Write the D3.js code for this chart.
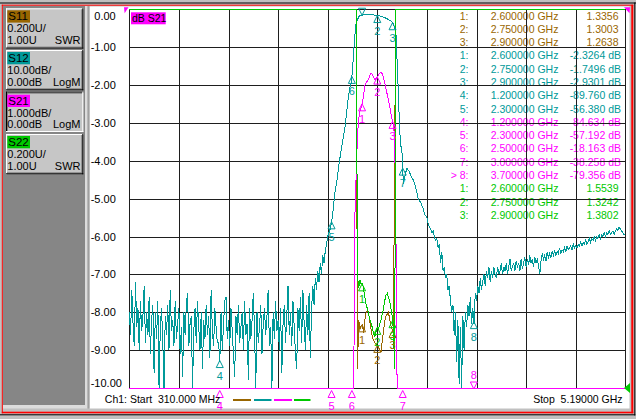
<!DOCTYPE html>
<html><head><meta charset="utf-8">
<script src="https://cdn.jsdelivr.net/npm/d3@7/dist/d3.min.js"></script>
<style>
html,body{margin:0;padding:0;background:#c0c0c0;overflow:hidden;}
svg{display:block;font-family:"Liberation Sans",Arial,sans-serif;}
text{white-space:pre;}
</style></head><body>
<svg id="chart" width="636" height="419"></svg>
<script>
// ================= DATA =================
const sweepStartGHz = 0.31;
const sweepStopGHz = 5.19;
const sweepPoints = 401;

// S12 (LogM, 10 dB/div, ref 0 dB) - one value per sweep point
const s12dB = [
-80,-86,-74,-83,-89,-72,-84,-79,-90,-77,
-85,-81,-73,-88,-80,-86,-76,-91,-82,-78,
-96,-80,-87,-77,-102,-84,-79,-88,-104,-81,
-86,-78,-90,-74,-85,-82,-89,-77,-87,-83,
-79,-91,-84,-97,-80,-86,-78,-75,-89,-83,
-81,-103,-85,-79,-88,-77,-84,-90,-80,-95,
-82,-87,-78,-86,-81,-92,-74,-85,-89,-79,
-84,-88,-88,-93,-80,-90,-83,-77,-76,-87,
-82,-89,-79,-85,-91,-97,-81,-86,-78,-88,
-84,-80,-90,-77,-86,-83,-98,-79,-87,-82,
-75,-85,-102,-80,-88,-84,-78,-91,-83,-79,
-86,-81,-74,-89,-84,-101,-80,-87,-77,-85,
-82,-90,-79,-96,-83,-78,-88,-81,-73,-86,
-80,-89,-77,-84,-91,-95,-79,-85,-76,-88,
-74,-83,-90,-78,-86,-75,-92,-79,-73,-78,
-71,-74,-69,-72,-67,-70,-65,-67,-64,-62,
-60,-59,-58,-56.4,-54,-51,-48,-46,-44,-41,
-39,-37,-35,-33,-31,-28,-25,-22.5,-20.5,-19.5,
-16,-11,-6.5,-3.5,-2.8,-2.0,-1.7,-1.6,-1.55,-1.45,
-1.35,-1.3,-1.3,-1.3,-1.35,-1.4,-1.45,-1.5,-1.55,-1.6,
-1.65,-1.7,-1.75,-1.85,-1.95,-2.05,-2.2,-2.35,-2.5,-2.7,
-2.9,-3.1,-3.4,-3.9,-4.8,-6.0,-14,-22,-32,-36,
-38,-46,-44.5,-43,-42,-42.5,-43,-44,-44.5,-45,
-46,-47,-48.5,-50,-50.5,-51,-52,-52.5,-54,-54.5,
-55,-56.5,-57.5,-58,-59,-58.5,-60,-61,-60.5,-63,
-62,-67,-64,-69,-68,-71,-70,-74,-73,-77,
-80,-78,-86,-80,-93,-82,-99,-84,-103,-81,
-90,-80,-84,-78,-81,-76,-83,-79,-83,-75,
-77,-73,-75,-71,-74,-72,-70,-73,-69,-71,
-68,-72,-69,-71,-68,-70,-71,-68,-70,-69,
-67,-70,-68,-69,-67,-70,-68,-66,-69,-68,
-67,-69,-66.5,-68,-67,-69,-66,-68.5,-67,-65.5,
-68,-66,-67.5,-65,-67,-66,-68,-65.5,-67,-66,
-67.5,-70,-66.5,-64.5,-66,-65,-66.5,-64,-65.5,-64.5,
-65.5,-64,-65,-63.5,-65,-64,-64.5,-63,-64.5,-63.5,
-64,-63,-64,-62.5,-63.5,-63,-62.5,-63.5,-62,-63,
-62.5,-63,-62,-62.5,-61.5,-62.5,-61.5,-62,-61,-62,
-61.5,-60.5,-61.5,-60.5,-61,-60,-61,-60,-60.5,-59.5,
-60.5,-59.5,-60,-59,-60,-59,-59.5,-58.5,-59.5,-59,
-58.5,-59.5,-58.5,-58,-58.5,-57.5,-58,-58.5,-59,-59.5,
-59.5
];

// S21 (LogM, 1 dB/div, ref 0 dB)
const s21FreqGHz = [0.31,1.2,2.3,2.5,
2.518,2.530,2.543,2.555,2.567,2.579,2.591,2.604,2.616,2.628,
2.640,2.652,2.665,2.677,2.689,2.701,2.713,2.726,2.738,2.750,
2.762,2.774,2.787,2.799,2.811,2.823,2.835,2.848,2.860,2.872,
2.884,2.896,2.909,2.921,2.933,2.945,
3.0,3.7,5.19];
const s21dB = [-88,-84.634,-57.192,-18.163,
-11.0,-5.4,-4.3,-3.3,-2.9,-2.7,-2.6,-2.45,-2.25,-2.0,
-1.93,-1.9,-1.85,-1.75,-1.68,-1.72,-1.8,-1.86,-1.83,-1.79,
-1.73,-1.69,-1.67,-1.7,-1.8,-1.93,-2.1,-2.25,-2.4,-2.55,
-2.75,-2.92,-3.05,-3.4,-5.8,-22,
-38.258,-79.356,-62];

// S11 and S22 (SWR, 0.2 U/div, ref 1.00 U)
const swrFreqGHz = [0.31,2.0,
2.530,2.543,2.555,2.567,2.579,2.591,2.604,2.616,2.628,2.640,
2.652,2.665,2.677,2.689,2.701,2.713,2.726,2.738,2.750,2.762,
2.774,2.787,2.799,2.811,2.823,2.835,2.848,2.860,2.872,2.884,
2.896,2.909,2.921,2.933,2.945,
3.5,5.19];
const s11Swr = [25,40,
30,12,1.10,1.36,1.31,1.33,1.335,1.29,1.36,1.40,
1.41,1.39,1.35,1.31,1.27,1.25,1.24,1.23,1.225,1.22,
1.20,1.19,1.25,1.30,1.35,1.38,1.39,1.40,1.36,1.33,
1.31,1.29,2.3,8,30,
45,20];
const s22Swr = [30,50,
40,10,1.59,1.53,1.57,1.55,1.55,1.52,1.48,1.44,
1.42,1.39,1.36,1.34,1.32,1.29,1.27,1.30,1.32,1.31,
1.34,1.36,1.39,1.42,1.46,1.49,1.50,1.48,1.46,1.42,
1.38,1.30,1.10,9,40,
50,25];

// markers
const markerFreqGHz = [2.6, 2.75, 2.9, 1.2, 2.3, 2.5, 3.0, 3.7];
const s11ShownMarkers = [1,2,3];
const s12ShownMarkers = [1,2,3,4,5,6,7,8];
const s21ShownMarkers = [1,2,3,4,5,6,7,8];
const s22ShownMarkers = [1,2,3];
const s12ActiveMarker = 1;
const s21ActiveMarker = 8;

// marker readout table
const s11ListMarkers = [1,2,3];
const s11ListValues = [1.3356,1.3003,1.2638];
const s12ListMarkers = [1,2,3,4,5];
const s12ListValues = [-2.3264,-1.7496,-2.9301,-89.760,-56.380];
const s21ListMarkers = [4,5,6,7,8];
const s21ListValues = [-84.634,-57.192,-18.163,-38.258,-79.356];
const s22ListMarkers = [1,2,3];
const s22ListValues = [1.5539,1.3242,1.3802];

// axis
const yTickValues = [0,-1,-2,-3,-4,-5,-6,-7,-8,-9,-10];

// channel panel
const channelNames = ["S11","S12","S21","S22"];
const channelScales = ["0.200U/","10.00dB/","1.000dB/","0.200U/"];
const channelRefs = ["1.00U","0.00dB","0.00dB","1.00U"];
const channelFormats = ["SWR","LogM","LogM","SWR"];
const activeChannel = "S21";

// ================= DRAWING =================
const COL = {S11:"#996600", S12:"#009999", S21:"#ff00ff", S22:"#00c800", grid:"#1e1e1e"};
const P = {left:129.3, right:625.3, top:9.3, bottom:388};
const svg = d3.select("#chart");
const fmtLocale = d3.formatLocale({decimal:".",thousands:",",grouping:[3],currency:["",""],minus:"-"});
const fmt5 = fmtLocale.format(".5r");

const sweepFreq = d3.range(sweepPoints).map(i => sweepStartGHz + i*(sweepStopGHz - sweepStartGHz)/(sweepPoints-1));

const x = d3.scaleLinear().domain([sweepStartGHz, sweepStopGHz]).range([P.left, P.right]);
const yS21 = d3.scaleLinear().domain([-10,0]).range([P.bottom,P.top]).clamp(true);
const yS12 = d3.scaleLinear().domain([-100,0]).range([P.bottom,P.top]).clamp(true);
const ySwr = d3.scaleLinear().domain([1,3]).range([P.bottom,P.top]).clamp(true);

// ---- window frame ----
const fr = svg.append("g");
const R = (x0,y0,w,h,c)=>fr.append("rect").attr("x",x0).attr("y",y0).attr("width",w).attr("height",h).attr("fill",c);
R(0,0,636,419,"#c0c0c0");
R(0,2.5,636,1,"#000");
R(89.5,6.5,540,402,"#fff");
R(3,6,82,399,"#868686");
R(85,6,2.5,402.5,"#dcdcdc");
R(87.5,6,2,402.5,"#a0a0a0");
R(3,405,82,3.5,"#dcdcdc");
R(1.8,4.7,631.5,1,"#ff0000");
R(1.8,4.7,1,408.6,"#ff0000");
R(631.3,4.7,2,408.6,"#ff0000");
R(1.8,411.7,631.5,1.6,"#ff0000");
R(634.3,2.5,1,413,"#000");
R(0,414.3,635.3,1,"#000");

// ---- channel buttons ----
const btnY = [8.3, 50, 91.7, 134];
channelNames.forEach((nm,k)=>{
  const pressed = nm === activeChannel;
  const off = pressed ? 1 : 0;
  const g = svg.append("g").attr("transform",`translate(6,${btnY[k]})`);
  const w = 77.3, h = 40.3;
  const B = (x0,y0,ww,hh,c)=>g.append("rect").attr("x",x0).attr("y",y0).attr("width",ww).attr("height",hh).attr("fill",c);
  B(0,0,w,h,"#c6c6c6");
  if (!pressed) {
    B(0,0,w,1,"#fff"); B(0,0,1,h,"#fff");
    B(1,h-2,w-2,1,"#808080"); B(w-2,1,1,h-2,"#808080");
    B(0,h-1,w,1,"#000"); B(w-1,0,1,h,"#000");
  } else {
    B(0,0,w,1,"#000"); B(0,0,1,h,"#000");
    B(1,1,w-2,1,"#808080"); B(1,1,1,h-2,"#808080");
    B(0,h-1,w,1,"#fff"); B(w-1,0,1,h,"#fff");
  }
  B(1.3,2+off,22.7,12.3,COL[nm]);
  g.append("text").attr("x",2.3).attr("y",12+off).attr("font-size",11.5).attr("fill","#000").text(nm);
  g.append("text").attr("x",1.3).attr("y",24+off).attr("font-size",11).attr("fill","#000").text(channelScales[k]);
  g.append("text").attr("x",1.3).attr("y",35.5+off).attr("font-size",11).attr("fill","#000").text(channelRefs[k]);
  g.append("text").attr("x",74.5).attr("y",35.5+off).attr("text-anchor","end").attr("font-size",11).attr("fill","#000").text(channelFormats[k]);
});

// ---- marker readout table ----
const rows = [];
s11ListMarkers.forEach((m,i)=>rows.push({c:COL.S11,m,v:s11ListValues[i],unit:"",act:false}));
s12ListMarkers.forEach((m,i)=>rows.push({c:COL.S12,m,v:s12ListValues[i],unit:" dB",act:false}));
s21ListMarkers.forEach((m,i)=>rows.push({c:COL.S21,m,v:s21ListValues[i],unit:" dB",act:m===s21ActiveMarker}));
s22ListMarkers.forEach((m,i)=>rows.push({c:COL.S22,m,v:s22ListValues[i],unit:"",act:false}));
const tbl = svg.append("g").attr("font-size",10.5);
rows.forEach((r,i)=>{
  const yb = 15.8 + 13.28*i + 3.8;
  tbl.append("text").attr("x",468.5).attr("y",yb).attr("text-anchor","end").attr("fill",r.c).text((r.act?"> ":"")+r.m+":");
  tbl.append("text").attr("x",490.7).attr("y",yb).attr("fill",r.c).text(d3.format(".6f")(markerFreqGHz[r.m-1])+" GHz");
  tbl.append("text").attr("x",r.unit?621:618.5).attr("y",yb).attr("text-anchor","end").attr("fill",r.c).text(fmt5(r.v)+r.unit);
});

// ---- grid via axes ----
const gridFreqs = d3.range(11).map(k => sweepStartGHz + k*(sweepStopGHz - sweepStartGHz)/10);
const gx = svg.append("g").attr("transform",`translate(0,${P.bottom})`)
  .call(d3.axisBottom(x).tickValues(gridFreqs).tickSize(-(P.bottom-P.top)).tickFormat(""));
const gy = svg.append("g").attr("transform",`translate(${P.left},0)`)
  .call(d3.axisLeft(yS21).tickValues(yTickValues).tickSize(-(P.right-P.left)).tickFormat(""));
[gx,gy].forEach(g=>{ g.select(".domain").remove(); g.selectAll("line").attr("stroke",COL.grid).attr("stroke-width",1).attr("shape-rendering","crispEdges"); });

// y labels (active trace S21)
svg.append("g").selectAll("text").data(yTickValues).join("text")
  .attr("x", d => d < 0 ? 90.7 : 94.3)
  .attr("y", d => Math.max(P.top+6.7, Math.min(P.bottom-5, yS21(d))) + 4)
  .attr("font-size",11).attr("fill","#000")
  .text(d => d.toFixed(2));

// ---- traces ----
const traces = [
  {name:"S11", f:swrFreqGHz, v:s11Swr, ys:ySwr, shown:s11ShownMarkers, act:null},
  {name:"S12", f:sweepFreq, v:s12dB, ys:yS12, shown:s12ShownMarkers, act:s12ActiveMarker},
  {name:"S21", f:s21FreqGHz, v:s21dB, ys:yS21, shown:s21ShownMarkers, act:s21ActiveMarker},
  {name:"S22", f:swrFreqGHz, v:s22Swr, ys:ySwr, shown:s22ShownMarkers, act:null}
];
traces.forEach(t=>{
  const line = d3.line().x((d,i)=>x(t.f[i])).y(d=>t.ys(d));
  svg.append("path").attr("d", line(t.v)).attr("fill","none")
    .attr("stroke",COL[t.name]).attr("stroke-width",1).attr("shape-rendering","crispEdges");
});

function valueAt(fs, vs, f){
  const i = d3.bisectRight(fs, f);
  if (i <= 0) return vs[0];
  if (i >= fs.length) return vs[vs.length-1];
  const tt = (f - fs[i-1])/(fs[i]-fs[i-1]);
  return vs[i-1] + tt*(vs[i]-vs[i-1]);
}

// ---- markers on traces ----
traces.forEach(t=>{
  const c = COL[t.name];
  const g = svg.append("g");
  t.shown.forEach(m=>{
    const f = markerFreqGHz[m-1];
    const px = x(f);
    const py = t.ys(valueAt(t.f, t.v, f));
    if (py <= P.top + 0.01) return;
    const atBottom = py >= P.bottom - 0.01;
    let pts, ly;
    if (m !== t.act) {
      const a = py + (atBottom ? 2.5 : 0);
      pts = [[px,a],[px-3.5,a+7],[px+3.5,a+7]]; ly = a + 15;
    } else {
      const a = py + (atBottom ? 1 : 0);
      pts = [[px,a],[px-3.5,a-7],[px+3.5,a-7]]; ly = a - 14;
    }
    g.append("polygon").attr("points", pts.map(p=>p.join(",")).join(" "))
      .attr("fill","none").attr("stroke",c).attr("stroke-width",1);
    if (ly > P.top + 3)
      g.append("text").attr("x",px).attr("y",ly+4).attr("text-anchor","middle")
        .attr("font-size",11).attr("fill",c).text(m);
  });
});

// ---- reference indicators ----
svg.append("polygon").attr("points","124,7.3 128.5,7.3 124.6,13.3").attr("fill",COL.S21);
svg.append("polygon").attr("points","624,7.3 630,7.3 629.5,13.3").attr("fill",COL.S21);
svg.append("polygon").attr("points","624,388 630,383 630,393").attr("fill",COL.S22);

// trace title box
svg.append("rect").attr("x",131).attr("y",12.3).attr("width",34.7).attr("height",12).attr("fill",COL.S21);
svg.append("text").attr("x",132).attr("y",22.2).attr("font-size",10.5).attr("fill","#000").text("dB " + activeChannel);

// ---- footer ----
svg.append("text").attr("x",104.8).attr("y",402.8).attr("font-size",10.5).attr("fill","#000")
  .text("Ch1: Start  " + d3.format(".3f")(sweepStartGHz*1000) + " MHz");
svg.append("text").attr("x",622.5).attr("y",402.8).attr("text-anchor","end").attr("font-size",10.5).attr("fill","#000")
  .text("Stop  " + d3.format(".5f")(sweepStopGHz) + " GHz");
const legendX = [[233,251],[254,271.5],[274,292],[294,310.5]];
channelNames.forEach((nm,k)=>{
  svg.append("line").attr("x1",legendX[k][0]).attr("x2",legendX[k][1]).attr("y1",400).attr("y2",400)
    .attr("stroke",COL[nm]).attr("stroke-width",2);
});
</script>
</body></html>
